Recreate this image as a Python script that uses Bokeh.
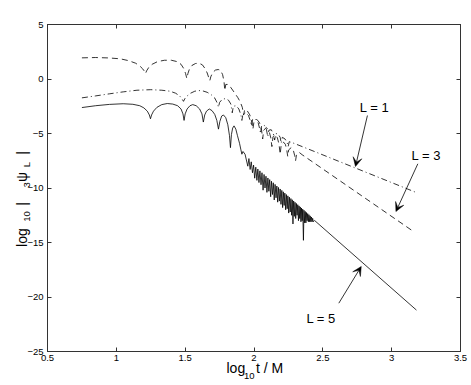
import math
from bokeh.plotting import figure
from bokeh.models import LinearAxis, Label, Arrow, VeeHead, FixedTicker, Range1d
from bokeh.embed import file_html
from bokeh.resources import INLINE

# ---------------- data ----------------
x_ticks = [0.5, 1, 1.5, 2, 2.5, 3, 3.5]
x_tick_labels = ["0.5", "1", "1.5", "2", "2.5", "3", "3.5"]
y_ticks = [5, 0, -5, -10, -15, -20, -25]
y_tick_labels = ["5", "0", "\u22125", "\u221210", "\u221215", "\u221220", "\u221225"]

# L = 5 (solid)
x5 = [0.75, 0.85, 0.95, 1.05, 1.12, 1.17, 1.20, 1.225, 1.24, 1.248, 1.256, 1.27, 1.295, 1.33, 1.37,
      1.41, 1.445, 1.47, 1.484, 1.492, 1.500, 1.514, 1.535, 1.555, 1.58, 1.605, 1.622, 1.632, 1.642,
      1.655, 1.675, 1.695, 1.715, 1.73, 1.742, 1.752, 1.765, 1.778, 1.795, 1.81, 1.822, 1.829, 1.836,
      1.845, 1.855, 1.868, 1.88, 1.895, 1.905, 1.912, 1.920,
      1.935, 1.955, 1.963, 1.972, 1.980, 1.989, 1.997, 2.005, 2.013, 2.021, 2.028, 2.036, 2.043, 2.051,
      2.058, 2.066, 2.073, 2.080, 2.087, 2.094, 2.101, 2.108, 2.114, 2.121, 2.127, 2.134, 2.140, 2.147,
      2.153, 2.160, 2.166, 2.172, 2.178, 2.184, 2.190, 2.196, 2.202, 2.208, 2.213, 2.219, 2.224, 2.230,
      2.235, 2.241, 2.246, 2.252, 2.257, 2.263, 2.268, 2.273, 2.278, 2.283, 2.288, 2.293, 2.298, 2.303,
      2.308, 2.313, 2.318, 2.323, 2.327, 2.332, 2.336, 2.341, 2.345, 2.350, 2.354, 2.359, 2.363, 2.368,
      2.372, 2.377, 2.381, 2.386, 2.390, 2.395, 2.399, 2.404, 2.408, 2.413, 2.417, 2.422, 2.426, 2.431,
      2.44, 3.18]
y5 = [-2.62, -2.45, -2.33, -2.27, -2.32, -2.45, -2.65, -2.95, -3.3, -3.65, -3.3, -2.95, -2.6, -2.35, -2.25,
      -2.3, -2.45, -2.75, -3.2, -3.8, -3.2, -2.75, -2.45, -2.35, -2.45, -2.75, -3.2, -3.95, -3.3,
      -2.95, -2.75, -2.9, -3.25, -3.8, -4.6, -3.9, -3.4, -3.3, -3.55, -4.2, -5.2, -6.3, -5.1,
      -4.5, -4.3, -4.6, -5.2, -5.9, -6.5, -6.9, -6.65,
      -6.9, -8.0, -7.3, -8.3, -7.6, -8.6, -7.9, -9.1, -8.09, -9.3, -8.26, -9.5, -8.43, -9.7,
      -8.60, -10.2, -8.76, -10.0, -8.92, -10.4, -9.08, -10.3, -9.23, -10.8, -9.38, -10.6, -9.52, -11.1,
      -9.67, -10.9, -9.82, -11.3, -9.95, -11.2, -10.09, -11.5, -10.22, -11.8, -10.35, -11.6, -10.47, -12.0,
      -10.60, -11.9, -10.72, -12.3, -10.84, -12.2, -10.97, -12.5, -11.08, -13.3, -11.19, -12.6, -11.31, -12.8,
      -11.42, -12.5, -11.53, -13.0, -11.64, -12.8, -11.74, -13.1, -11.84, -13.0, -11.94, -14.8, -12.04, -13.2,
      -12.15, -13.2, -12.25, -13.0, -12.35, -13.1, -12.45, -13.1, -12.56, -13.1, -12.66, -13.1, -12.78, -13.1,
      -12.98, -21.2]

# L = 3 (dashed)
x3 = [0.75, 0.85, 0.95, 1.03, 1.09, 1.14, 1.17, 1.19, 1.205, 1.212, 1.22, 1.235, 1.26, 1.30, 1.35, 1.40,
      1.44, 1.47, 1.49, 1.503, 1.512, 1.52, 1.532, 1.55, 1.575, 1.60, 1.625, 1.645, 1.66, 1.672, 1.679,
      1.686, 1.70, 1.72, 1.74, 1.757, 1.772, 1.782, 1.788, 1.795, 1.81, 1.83, 1.855, 1.882, 1.90, 1.915,
      1.925, 1.932, 1.95, 1.97, 1.985, 1.992, 2.0, 2.02, 2.04, 2.055, 2.063, 2.07, 2.09, 2.11, 2.122,
      2.13, 2.138, 2.155, 2.17, 2.182, 2.19, 2.198, 2.215, 2.228, 2.238, 2.245, 2.252, 2.27, 2.285,
      2.295, 2.302, 2.309, 2.33, 2.35, 3.155]
y3 = [1.94, 1.97, 1.93, 1.85, 1.68, 1.45, 1.2, 0.95, 0.7, 0.5, 0.75, 1.05, 1.35, 1.6, 1.72, 1.72,
      1.6, 1.35, 0.95, 0.5, 0.05, 0.5, 0.95, 1.25, 1.42, 1.45, 1.3, 0.95, 0.55, 0.1, -0.15,
      0.2, 0.6, 0.82, 0.87, 0.8, 0.4, -0.2, -1.05, -0.5, -0.5, -0.75, -1.2, -1.7, -2.1, -2.6,
      -3.3, -2.8, -2.9, -3.3, -4.0, -4.6, -3.9, -3.7, -4.0, -4.7, -5.5, -4.7, -4.45, -4.8, -5.4,
      -6.2, -5.3, -5.1, -5.4, -6.0, -6.9, -6.0, -5.8, -6.0, -6.5, -7.1, -6.5, -6.3, -6.5,
      -7.0, -7.5, -6.9, -6.75, -6.95, -13.96]

# L = 1 (dash-dot)
x1 = [0.75, 0.85, 0.95, 1.05, 1.15, 1.25, 1.33, 1.39, 1.43, 1.46, 1.478, 1.488, 1.498, 1.515, 1.54,
      1.57, 1.60, 1.63, 1.66, 1.69, 1.715, 1.733, 1.742, 1.75, 1.77, 1.795, 1.815, 1.832, 1.842, 1.85,
      1.87, 1.89, 1.905, 1.912, 1.92, 1.94, 1.96, 1.975, 1.982, 1.99, 2.01, 2.03, 2.042, 2.048, 2.055,
      2.075, 2.09, 2.10, 2.108, 2.125, 2.14, 2.15, 2.158, 2.175, 2.19, 2.198, 2.206, 2.225, 2.24,
      2.248, 2.256, 2.28, 2.30, 2.35, 3.18]
y1 = [-1.73, -1.55, -1.36, -1.18, -1.03, -0.98, -1.03, -1.12, -1.3, -1.55, -1.85, -2.05, -1.8, -1.55, -1.3,
      -1.12, -1.06, -1.1, -1.22, -1.45, -1.75, -2.2, -2.6, -2.15, -1.85, -1.8, -1.95, -2.3, -3.1, -2.5,
      -2.45, -2.75, -3.3, -3.8, -3.2, -3.1, -3.35, -3.9, -4.3, -3.7, -3.65, -4.0, -4.6, -5.0, -4.3,
      -4.25, -4.6, -5.3, -4.7, -4.65, -5.0, -5.6, -5.0, -5.05, -5.35, -5.9, -5.35, -5.5, -5.8,
      -6.2, -5.75, -5.85, -5.95, -6.2, -10.42]

# annotations: label text, label position, arrow start, arrow tip
ann_text = ["L = 1", "L = 3", "L = 5"]
ann_x = [2.875, 3.251, 2.487]
ann_y = [-2.61, -7.05, -21.94]
arr_x0 = [2.824, 3.19, 2.616]
arr_y0 = [-3.35, -7.78, -20.57]
arr_x1 = [2.737, 3.031, 2.779]
arr_y1 = [-8.03, -12.16, -17.2]

# axis titles, split in pieces: main-size pieces and subscript pieces, each centred at an axis value
xtitle_main = ["log", "t / M"]
xtitle_main_at = [1.868, 2.113]
xtitle_sub = ["10"]
xtitle_sub_at = [1.966]
ytitle_main = ["log", "|", "\u03c8", "|"]
ytitle_main_at = [-13.69, -11.30, -8.53, -6.62]
ytitle_sub = ["10", "3", "L"]
ytitle_sub_at = [-12.13, -9.47, -7.61]

FONT = "Liberation Sans"
AX = "#333333"

p = figure(width=471, height=385, output_backend="svg", toolbar_location=None,
           x_range=Range1d(0.5, 3.5), y_range=Range1d(-25, 5),
           min_border_left=47, min_border_right=11, min_border_top=24, min_border_bottom=34)
p.background_fill_color = "white"
p.border_fill_color = "white"
p.grid.visible = False
p.outline_line_color = AX

p.line(x5, y5, line_color="black", line_width=0.8)
p.line(x3, y3, line_color="black", line_width=0.8, line_dash="6 4")
p.line(x1, y1, line_color="black", line_width=0.8, line_dash="6 3 1 3")

def style(ax, ticks, labels, show):
    ax.ticker = FixedTicker(ticks=ticks)
    ax.minor_tick_line_color = None
    ax.major_tick_in = 4
    ax.major_tick_out = 0
    ax.axis_line_color = AX
    ax.major_tick_line_color = AX
    ax.major_label_text_font = FONT
    ax.major_label_text_color = "black"
    if show:
        ax.major_label_overrides = dict(zip(ticks, labels))
        ax.major_label_text_font_size = "9.5px"
    else:
        ax.major_label_text_font_size = "0px"
        ax.major_label_standoff = 0

style(p.xaxis[0], x_ticks, x_tick_labels, True)
style(p.yaxis[0], y_ticks, y_tick_labels, True)
p.xaxis[0].major_label_standoff = 3
p.yaxis[0].major_label_standoff = 4

top = LinearAxis()
right = LinearAxis()
style(top, x_ticks, x_tick_labels, False)
style(right, y_ticks, y_tick_labels, False)
p.add_layout(top, "above")
p.add_layout(right, "right")

def title_axis(ticks, labels, size, standoff, orientation=None):
    ax = LinearAxis(ticker=FixedTicker(ticks=ticks), major_label_overrides=dict(zip(ticks, labels)))
    ax.axis_line_color = None
    ax.major_tick_line_color = None
    ax.minor_tick_line_color = None
    ax.major_tick_in = 0
    ax.major_tick_out = 0
    ax.major_label_standoff = standoff
    ax.major_label_text_font = FONT
    ax.major_label_text_font_size = size
    ax.major_label_text_color = "black"
    if orientation is not None:
        ax.major_label_orientation = orientation
    return ax

# x title: main pieces first (closer to frame), subscript below them
p.add_layout(title_axis(xtitle_main_at, xtitle_main, "14px", -4), "below")
p.add_layout(title_axis(xtitle_sub_at, xtitle_sub, "9.5px", -6), "below")

# y title (rotated): subscripts sit on the frame side, main pieces outside them
p.add_layout(title_axis(ytitle_sub_at, ytitle_sub, "9.5px", -2, math.pi / 2), "left")
p.add_layout(title_axis(ytitle_main_at, ytitle_main, "14px", -10, math.pi / 2), "left")

# annotations
for t, lx, ly, a0, b0, a1, b1 in zip(ann_text, ann_x, ann_y, arr_x0, arr_y0, arr_x1, arr_y1):
    p.add_layout(Label(x=lx, y=ly, text=t, text_font=FONT, text_font_size="13px",
                       text_align="center", text_baseline="middle", text_color="black"))
    p.add_layout(Arrow(x_start=a0, y_start=b0, x_end=a1, y_end=b1, line_width=0.8, line_color="black",
                       end=VeeHead(size=9, fill_color="black", line_color="black", line_width=0.5)))

open("out.html", "w").write(file_html(p, INLINE))
